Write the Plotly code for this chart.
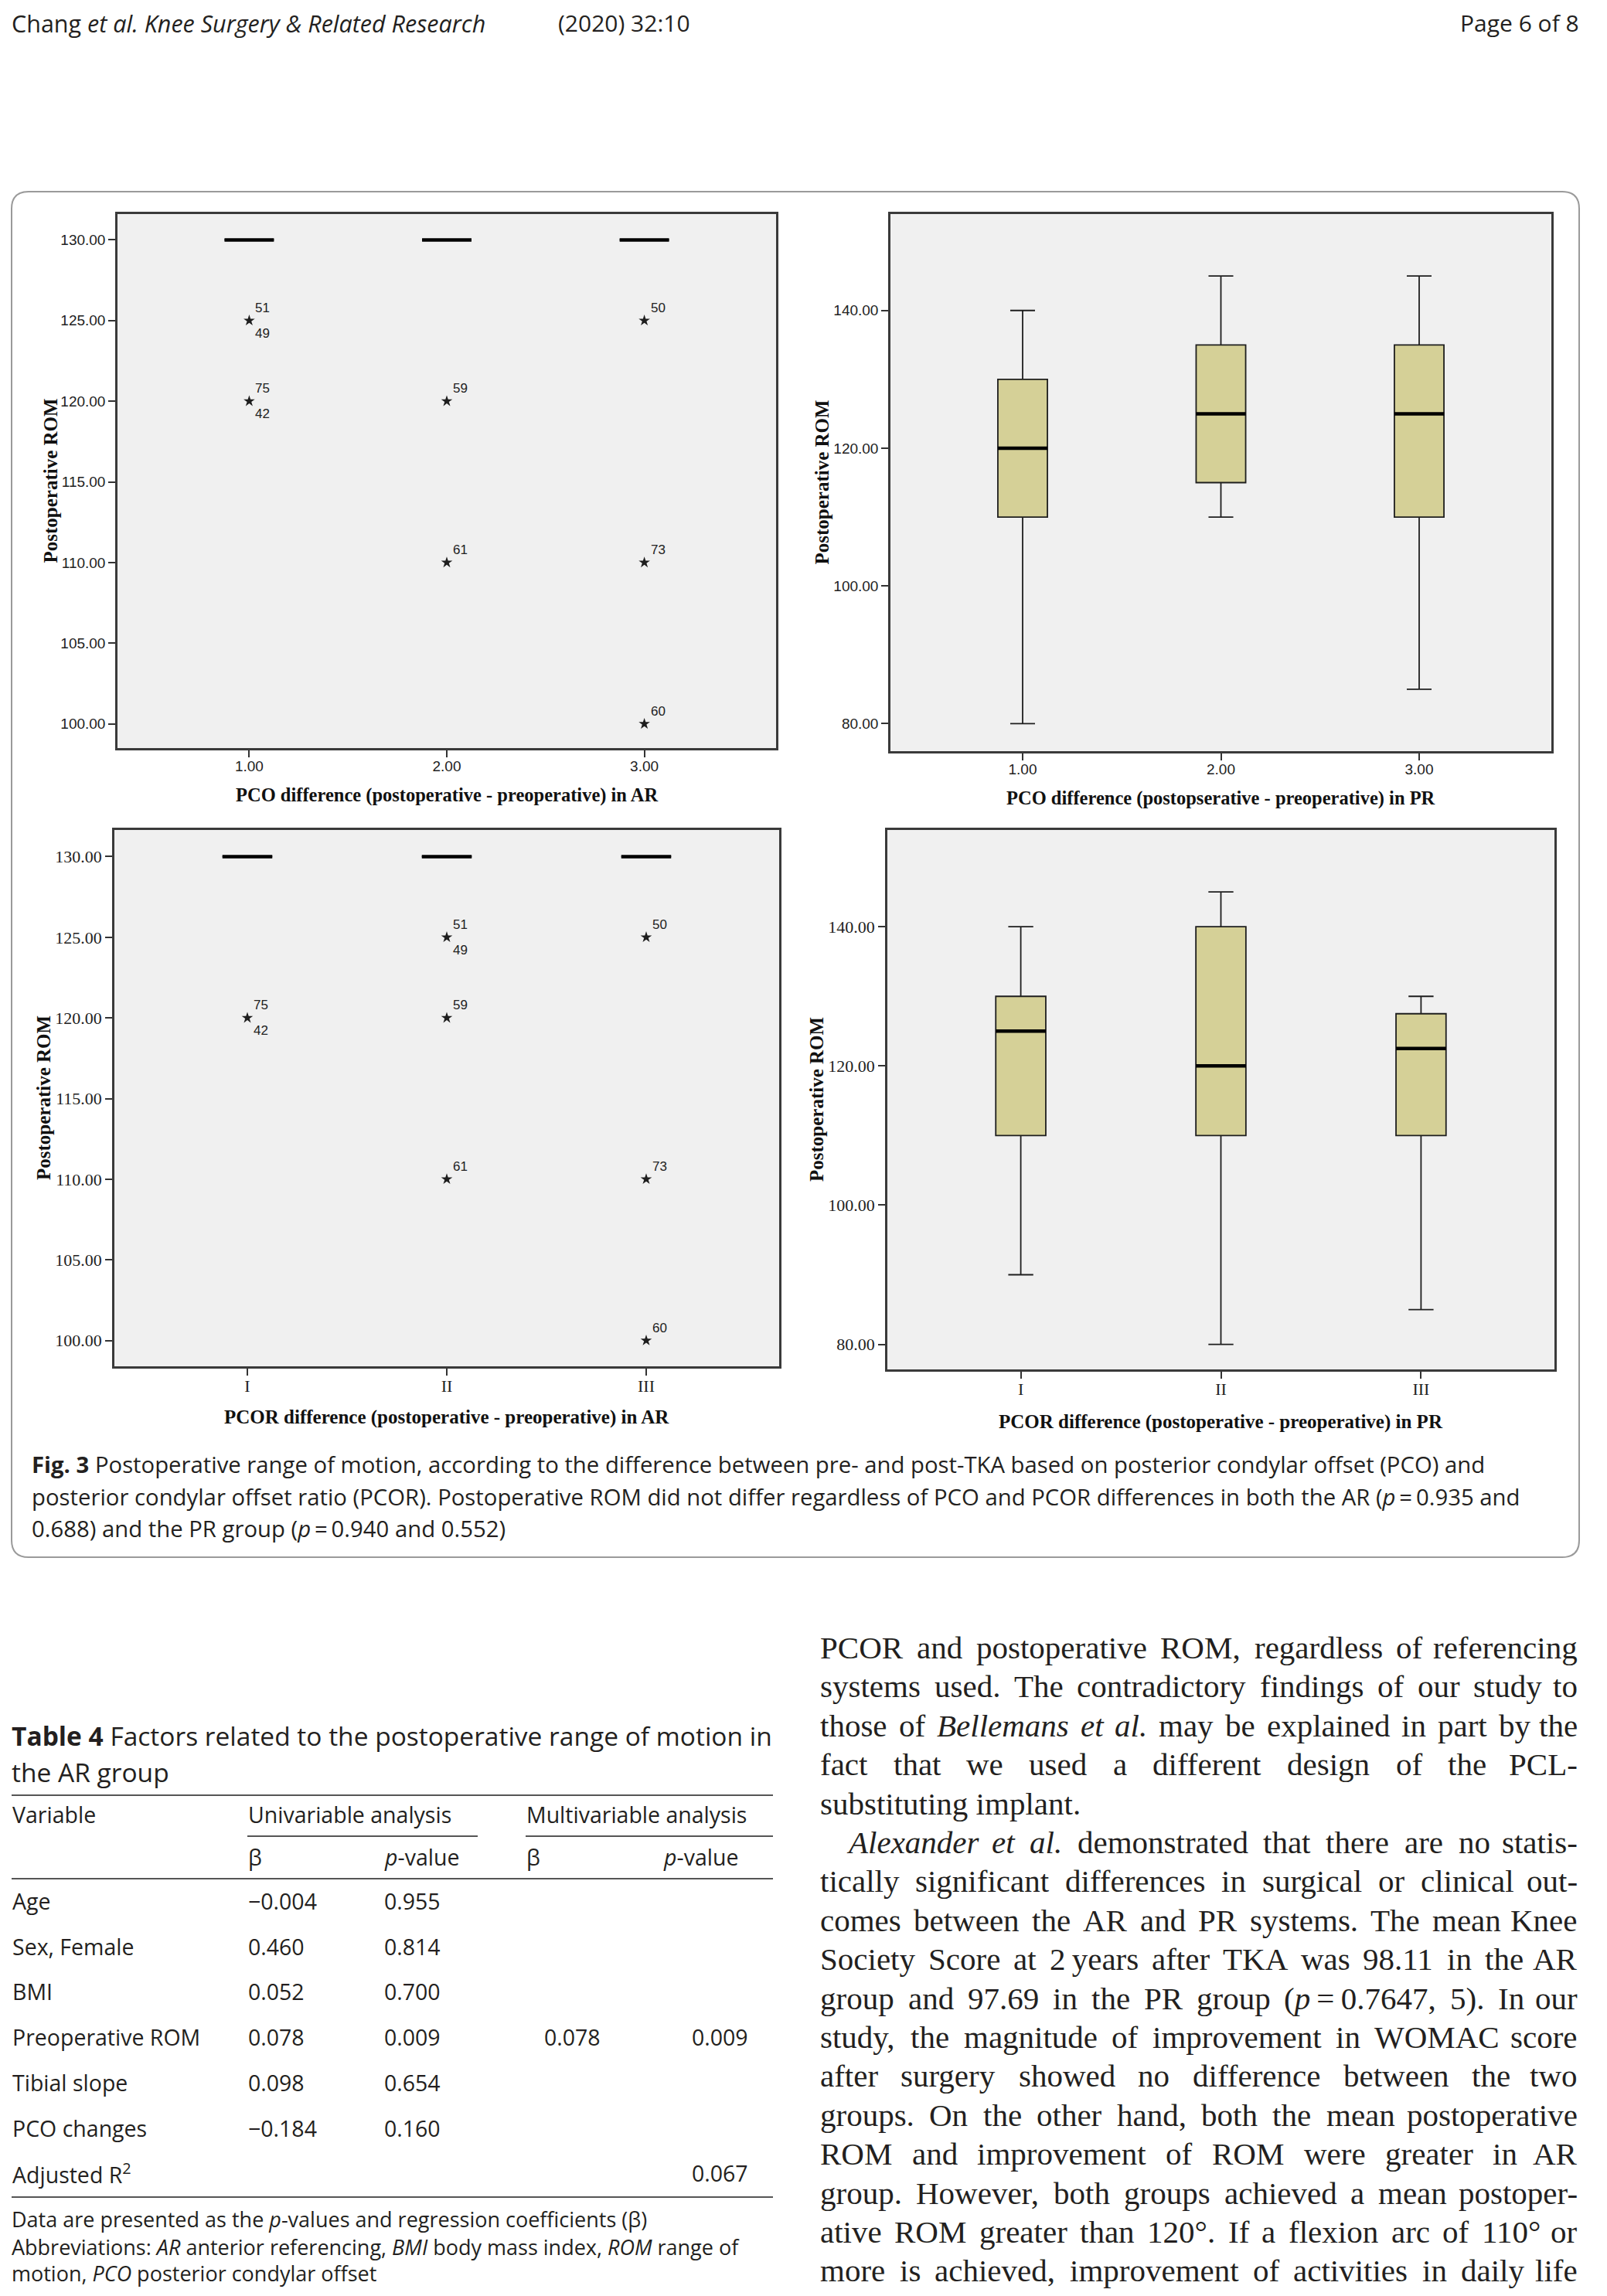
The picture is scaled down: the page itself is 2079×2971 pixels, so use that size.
import re
import plotly.graph_objects as go

W, H = 2079, 2971
OFF = 8                      # default body margin of the html page
FW, FH = W - 2 * OFF, H - 2 * OFF

# ---------------- chart data ----------------
groups = [1, 2, 3]
pco_ticktext = ["1.00", "2.00", "3.00"]
pcor_ticktext = ["I", "II", "III"]
rom_ticks_ar = [100, 105, 110, 115, 120, 125, 130]
rom_ticks_pr = [80, 100, 120, 140]

# PCO difference in AR (all non-outlier values at 130)
ar_pco_low = [130, 130, 130]
ar_pco_q1 = [130, 130, 130]
ar_pco_median = [130, 130, 130]
ar_pco_q3 = [130, 130, 130]
ar_pco_high = [130, 130, 130]
ar_pco_out_x = [1, 1, 2, 2, 3, 3, 3]
ar_pco_out_y = [125, 120, 120, 110, 125, 110, 100]
ar_pco_out_id_above = ["51", "75", "59", "61", "50", "73", "60"]
ar_pco_out_id_below = ["49", "42", "", "", "", "", ""]

# PCO difference in PR
pr_pco_low = [80, 110, 85]
pr_pco_q1 = [110, 115, 110]
pr_pco_median = [120, 125, 125]
pr_pco_q3 = [130, 135, 135]
pr_pco_high = [140, 145, 145]

# PCOR difference in AR
ar_pcor_low = [130, 130, 130]
ar_pcor_q1 = [130, 130, 130]
ar_pcor_median = [130, 130, 130]
ar_pcor_q3 = [130, 130, 130]
ar_pcor_high = [130, 130, 130]
ar_pcor_out_x = [1, 2, 2, 2, 3, 3, 3]
ar_pcor_out_y = [120, 125, 120, 110, 125, 110, 100]
ar_pcor_out_id_above = ["75", "51", "59", "61", "50", "73", "60"]
ar_pcor_out_id_below = ["42", "49", "", "", "", "", ""]

# PCOR difference in PR
pr_pcor_low = [90, 80, 85]
pr_pcor_q1 = [110, 110, 110]
pr_pcor_median = [125, 120, 122.5]
pr_pcor_q3 = [130, 140, 127.5]
pr_pcor_high = [140, 145, 130]

# Table 4
table_vars = ["Age", "Sex, Female", "BMI", "Preoperative ROM", "Tibial slope",
              "PCO changes", "Adjusted R<sup>2</sup>"]
uni_beta = ["\u22120.004", "0.460", "0.052", "0.078", "0.098", "\u22120.184", ""]
uni_p = ["0.955", "0.814", "0.700", "0.009", "0.654", "0.160", ""]
multi_beta = ["", "", "", "0.078", "", "", ""]
multi_p = ["", "", "", "0.009", "", "", "0.067"]

# ---------------- styles ----------------
INK = "#231f20"
BOX_FILL = "#d5d097"
PAGE_SANS = "Open Sans, Noto Sans, sans-serif"
BODY_SERIF = "Liberation Serif, Times New Roman, serif"
PLOT_SANS = "Liberation Sans Narrow, Arial Narrow, Liberation Sans, sans-serif"
PLOT_SERIF = "Liberation Serif, Times New Roman, serif"


def X(p):
    return (p - OFF) / FW


def Y(p):
    return 1 - (p - OFF) / FH


panels = [
    dict(xd=(152, 1004), yd=(277, 968), yr=[98.5, 131.6], yt=rom_ticks_ar,
         tt=pco_ticktext, tf=PLOT_SANS, tsize=19,
         low=ar_pco_low, q1=ar_pco_q1, med=ar_pco_median, q3=ar_pco_q3, high=ar_pco_high,
         ox=ar_pco_out_x, oy=ar_pco_out_y, oa=ar_pco_out_id_above, ob=ar_pco_out_id_below,
         xtitle="PCO difference (postoperative - preoperative) in AR", xty=1029, ytx=65, ts=24.5),
    dict(xd=(1152, 2007), yd=(277, 972), yr=[76, 154], yt=rom_ticks_pr,
         tt=pco_ticktext, tf=PLOT_SANS, tsize=19,
         low=pr_pco_low, q1=pr_pco_q1, med=pr_pco_median, q3=pr_pco_q3, high=pr_pco_high,
         ox=None,
         xtitle="PCO difference (postopserative - preoperative) in PR", xty=1033, ytx=1063, ts=24.5),
    dict(xd=(148, 1008), yd=(1074, 1768), yr=[98.4, 131.65], yt=rom_ticks_ar,
         tt=pcor_ticktext, tf=PLOT_SERIF, tsize=22,
         low=ar_pcor_low, q1=ar_pcor_q1, med=ar_pcor_median, q3=ar_pcor_q3, high=ar_pcor_high,
         ox=ar_pcor_out_x, oy=ar_pcor_out_y, oa=ar_pcor_out_id_above, ob=ar_pcor_out_id_below,
         xtitle="PCOR difference (postoperative - preoperative) in AR", xty=1834, ytx=57, ts=25),
    dict(xd=(1148, 2011), yd=(1074, 1772), yr=[76.4, 153.9], yt=rom_ticks_pr,
         tt=pcor_ticktext, tf=PLOT_SERIF, tsize=22,
         low=pr_pcor_low, q1=pr_pcor_q1, med=pr_pcor_median, q3=pr_pcor_q3, high=pr_pcor_high,
         ox=None,
         xtitle="PCOR difference (postoperative - preoperative) in PR", xty=1840, ytx=1056, ts=25),
]

fig = go.Figure()
annotations = []
shapes = []
layout = {}

for i, p in enumerate(panels):
    n = i + 1
    xa = "x" if n == 1 else f"x{n}"
    ya = "y" if n == 1 else f"y{n}"
    fig.add_trace(go.Box(
        x=groups, q1=p["q1"], median=p["med"], q3=p["q3"],
        lowerfence=p["low"], upperfence=p["high"],
        width=0.25, whiskerwidth=0.5, fillcolor=BOX_FILL,
        line=dict(color="#1e1e1e", width=1.8),
        xaxis=xa, yaxis=ya, showlegend=False, hoverinfo="skip"))
    mx, my = [], []
    for g, m in zip(groups, p["med"]):
        mx += [g - 0.125, g + 0.125, None]
        my += [m, m, None]
    fig.add_trace(go.Scatter(x=mx, y=my, mode="lines",
                             line=dict(color="black", width=4.5),
                             xaxis=xa, yaxis=ya, showlegend=False, hoverinfo="skip"))
    if p["ox"]:
        fig.add_trace(go.Scatter(x=p["ox"], y=p["oy"], mode="markers",
                                 marker=dict(symbol="star", size=11, color="#1e1e1e",
                                             line=dict(width=0)),
                                 xaxis=xa, yaxis=ya, showlegend=False, hoverinfo="skip"))
        for x, y, ta, tb in zip(p["ox"], p["oy"], p["oa"], p["ob"]):
            if ta:
                annotations.append(dict(text=ta, x=x, y=y, xref=xa, yref=ya,
                                        xanchor="left", yanchor="bottom", xshift=6, yshift=5,
                                        showarrow=False,
                                        font=dict(family=PLOT_SANS, size=17, color="#222")))
            if tb:
                annotations.append(dict(text=tb, x=x, y=y, xref=xa, yref=ya,
                                        xanchor="left", yanchor="top", xshift=6, yshift=-5,
                                        showarrow=False,
                                        font=dict(family=PLOT_SANS, size=17, color="#222")))
    axis_common = dict(ticks="outside", ticklen=9, tickwidth=2, tickcolor="#333",
                       showline=True, mirror=True, linecolor="#3a3a3a", linewidth=2.5,
                       showgrid=False, zeroline=False, fixedrange=True,
                       tickfont=dict(family=p["tf"], size=p["tsize"], color="#222"))
    layout["xaxis" + ("" if n == 1 else str(n))] = dict(
        domain=[X(p["xd"][0]), X(p["xd"][1])], range=[1 / 3, 11 / 3],
        tickvals=groups, ticktext=p["tt"], anchor=ya, ticklabelstandoff=-5, **axis_common)
    layout["yaxis" + ("" if n == 1 else str(n))] = dict(
        domain=[Y(p["yd"][1]), Y(p["yd"][0])], range=p["yr"],
        tickvals=p["yt"], ticktext=[f"{v:.2f}" for v in p["yt"]], anchor=xa, **axis_common)
    annotations.append(dict(text=p["xtitle"], x=X((p["xd"][0] + p["xd"][1]) / 2), y=Y(p["xty"]),
                            xref="paper", yref="paper", xanchor="center", yanchor="middle",
                            showarrow=False,
                            font=dict(family=PLOT_SERIF, size=p["ts"], color="#111", weight="bold")))
    annotations.append(dict(text="Postoperative ROM", x=X(p["ytx"]),
                            y=Y((p["yd"][0] + p["yd"][1]) / 2),
                            xref="paper", yref="paper", xanchor="center", yanchor="middle",
                            textangle=-90, showarrow=False,
                            font=dict(family=PLOT_SERIF, size=25, color="#111", weight="bold")))


# ---------------- page furniture ----------------
def page_text(text, x, y, size, family=PAGE_SANS, anchor="left", color=INK):
    annotations.append(dict(text=text, x=X(x), y=Y(y), xref="paper", yref="paper",
                            xanchor=anchor, yanchor="middle", showarrow=False,
                            font=dict(family=family, size=size, color=color)))


# header
page_text("Chang <i>et al. Knee Surgery &amp; Related Research</i>", 13, 30, 30.5)
page_text("(2020) 32:10", 720, 30, 30)
page_text("Page 6 of 8", 2045, 30, 30, anchor="right")

# figure border (rounded rectangle)
bx0, bx1, by0, by1, r = 15, 2043, 248, 2015, 22
path = (f"M {X(bx0 + r)} {Y(by0)} L {X(bx1 - r)} {Y(by0)} Q {X(bx1)} {Y(by0)} {X(bx1)} {Y(by0 + r)} "
        f"L {X(bx1)} {Y(by1 - r)} Q {X(bx1)} {Y(by1)} {X(bx1 - r)} {Y(by1)} "
        f"L {X(bx0 + r)} {Y(by1)} Q {X(bx0)} {Y(by1)} {X(bx0)} {Y(by1 - r)} "
        f"L {X(bx0)} {Y(by0 + r)} Q {X(bx0)} {Y(by0)} {X(bx0 + r)} {Y(by0)} Z")
shapes.append(dict(type="path", path=path, xref="paper", yref="paper",
                   line=dict(color="#9a9a9a", width=2), layer="below"))

# caption
cap_lines = [
    "<b>Fig. 3</b> Postoperative range of motion, according to the difference between pre- and post-TKA based on posterior condylar offset (PCO) and",
    "posterior condylar offset ratio (PCOR). Postoperative ROM did not differ regardless of PCO and PCOR differences in both the AR (<i>p</i>\u2009=\u20090.935 and",
    "0.688) and the PR group (<i>p</i>\u2009=\u20090.940 and 0.552)",
]
for k, t in enumerate(cap_lines):
    page_text(t, 39, 1895 + k * 41.5, 29.3)

# table
page_text("<b>Table 4</b> Factors related to the postoperative range of motion in", 13, 2246, 33.5)
page_text("the AR group", 13, 2293, 33.5)


def hline(x0, x1, y, w=1.8, c="#555"):
    shapes.append(dict(type="line", xref="paper", yref="paper", x0=X(x0), x1=X(x1),
                       y0=Y(y), y1=Y(y), line=dict(color=c, width=w)))


hline(15, 1000, 2323)
hline(320, 618, 2376)
hline(680, 1000, 2376)
hline(15, 1000, 2431)
hline(15, 1000, 2843)

TS = 28.5
page_text("Variable", 14, 2348, TS)
page_text("Univariable analysis", 319, 2348, TS)
page_text("Multivariable analysis", 679, 2348, TS)
page_text("\u03b2", 319, 2403, TS)
page_text("<i>p</i>-value", 495, 2403, TS)
page_text("\u03b2", 679, 2403, TS)
page_text("<i>p</i>-value", 856, 2403, TS)
for k in range(len(table_vars)):
    yy = 2460 + k * 58.7
    page_text(table_vars[k], 14, yy, TS)
    if uni_beta[k]:
        page_text(uni_beta[k], 319, yy, TS)
    if uni_p[k]:
        page_text(uni_p[k], 495, yy, TS)
    if multi_beta[k]:
        page_text(multi_beta[k], 702, yy, TS)
    if multi_p[k]:
        page_text(multi_p[k], 893, yy, TS)

page_text("Data are presented as the <i>p</i>-values and regression coefficients (\u03b2)", 13, 2871, 27)
page_text("Abbreviations: <i>AR</i> anterior referencing, <i>BMI</i> body mass index, <i>ROM</i> range of", 13, 2907, 27)
page_text("motion, <i>PCO</i> posterior condylar offset", 13, 2941, 27)

# body text (justified, placed word by word)
TIMES = {' ': 250, 'a': 444, 'b': 500, 'c': 444, 'd': 500, 'e': 444, 'f': 333, 'g': 500, 'h': 500,
         'i': 278, 'j': 278, 'k': 500, 'l': 278, 'm': 778, 'n': 500, 'o': 500, 'p': 500, 'q': 500,
         'r': 333, 's': 389, 't': 278, 'u': 500, 'v': 500, 'w': 722, 'x': 500, 'y': 500, 'z': 444,
         'A': 722, 'B': 667, 'C': 667, 'D': 722, 'E': 611, 'F': 556, 'G': 722, 'H': 722, 'I': 333,
         'J': 389, 'K': 722, 'L': 611, 'M': 889, 'N': 722, 'O': 722, 'P': 556, 'Q': 722, 'R': 667,
         'S': 556, 'T': 611, 'U': 722, 'V': 722, 'W': 944, 'X': 722, 'Y': 722, 'Z': 611,
         '.': 250, ',': 250, '-': 333, '(': 333, ')': 333, '=': 564, '\u00b0': 400, ':': 278,
         ';': 278, '\u2009': 200}
TIMES_IT = {'a': 500, 'f': 278, 'm': 722, 'r': 389, 'v': 444, 'w': 667, 'x': 444, 'y': 444,
            'z': 389, 'k': 444, 'A': 611, 'B': 611, 'M': 833, 'N': 667, 'P': 611, 'R': 611}


def word_width(word, size):
    italic = "<i>" in word
    plain = re.sub(r"<[^>]+>", "", word)
    tot = 0
    for ch in plain:
        w = TIMES_IT.get(ch) if italic else None
        tot += w if w else TIMES.get(ch, 500)
    return tot * size / 1000


body_lines = [
    ("PCOR and postoperative ROM, regardless of referencing", True, 0),
    ("systems used. The contradictory findings of our study to", True, 0),
    ("those of <i>Bellemans</i> <i>et</i> <i>al.</i> may be explained in part by the", True, 0),
    ("fact that we used a different design of the PCL-", True, 0),
    ("substituting implant.", False, 0),
    ("<i>Alexander</i> <i>et</i> <i>al.</i> demonstrated that there are no statis-", True, 34),
    ("tically significant differences in surgical or clinical out-", True, 0),
    ("comes between the AR and PR systems. The mean Knee", True, 0),
    ("Society Score at 2\u2009years after TKA was 98.11 in the AR", True, 0),
    ("group and 97.69 in the PR group (<i>p</i>\u2009=\u20090.7647, 5). In our", True, 0),
    ("study, the magnitude of improvement in WOMAC score", True, 0),
    ("after surgery showed no difference between the two", True, 0),
    ("groups. On the other hand, both the mean postoperative", True, 0),
    ("ROM and improvement of ROM were greater in AR", True, 0),
    ("group. However, both groups achieved a mean postoper-", True, 0),
    ("ative ROM greater than 120\u00b0. If a flexion arc of 110\u00b0 or", True, 0),
    ("more is achieved, improvement of activities in daily life", True, 0),
]
BS = 41
L, R = 1059, 2043
for k, (line, just, ind) in enumerate(body_lines):
    yy = 2132 + k * 50.4
    if not just:
        page_text(line, L + ind, yy, BS, family=BODY_SERIF)
        continue
    words = line.split(" ")
    widths = [word_width(w, BS) for w in words]
    gap = (R - L - ind - sum(widths)) / (len(words) - 1)
    gap = max(gap, 0.15 * BS)
    xcur = L + ind
    for j, w in enumerate(words):
        if j == len(words) - 1:
            page_text(w, R, yy, BS, family=BODY_SERIF, anchor="right")
        else:
            page_text(w, xcur, yy, BS, family=BODY_SERIF)
        xcur += widths[j] + gap

fig.update_layout(
    width=FW, height=FH, margin=dict(l=0, r=0, t=0, b=0),
    paper_bgcolor="white", plot_bgcolor="#f0f0f0",
    showlegend=False, annotations=annotations, shapes=shapes, **layout)

fig.write_html("out.html")
